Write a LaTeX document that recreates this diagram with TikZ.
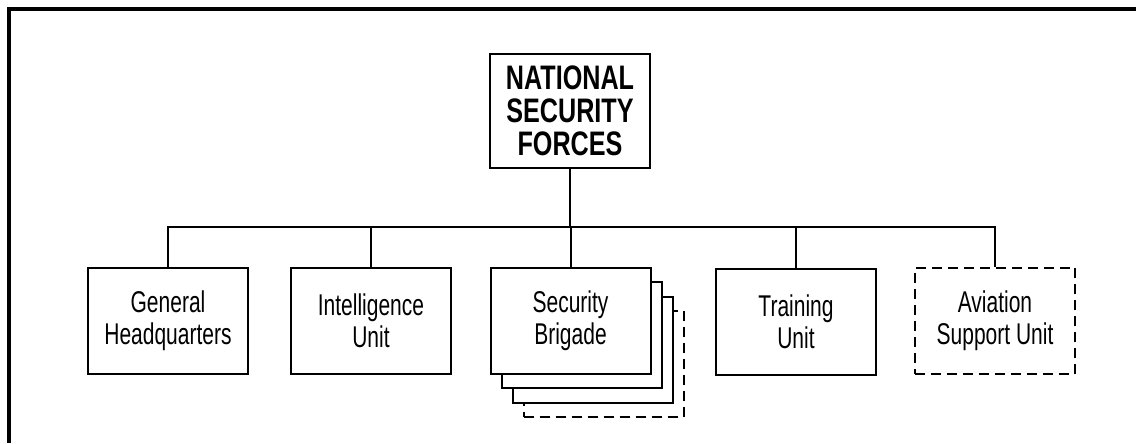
\documentclass[tikz,border=0pt]{standalone}
\usepackage{fontspec}
\newfontfamily\unitfont[FakeStretch=0.7]{Liberation Sans}
\newfontfamily\headfont[FakeStretch=0.74]{Liberation Sans}
\usetikzlibrary{positioning}
\tikzset{unit/.style={draw,line width=1.5pt,fill=white,minimum width=120pt,
    minimum height=80pt,align=center,inner sep=0pt,
    font=\unitfont\fontsize{22.5}{24}\selectfont},
  planned/.style={unit,dash pattern=on 7.5pt off 4.5pt}}

\begin{document}
\begin{tikzpicture}[x=0.75pt,y=-0.75pt]
    \useasboundingbox (0,0) rectangle (1136,443);
    \draw [line width=3pt] (9,443) -- (9,9) -- (1136,9);
    \node [unit,minimum height=86pt,
    font=\headfont\bfseries\fontsize{25.5}{24.75}\selectfont]
    (nsf) at (570,111) {NATIONAL\\SECURITY\\FORCES};
    \node [unit] (ghq) at (168,321) {General\\Headquarters};
    \node [unit] (intel) at (371,321) {Intelligence\\Unit};
    \node [planned] (brig4) at (603.5,364) {};
    \node [unit] (brig3) at (592.5,350) {};
    \node [unit] (brig2) at (581.5,335) {};
    \node [unit] (brig) at (570.5,321) {Security\\Brigade};
    \node [unit] (train) at (796,322) {Training\\Unit};
    \node [planned] (avn) at (995,321) {Aviation\\Support Unit};
    \coordinate (bus) at (570,227);
    \draw [line width=1.5pt] (nsf.south) -- (bus);
    \draw [line width=1.5pt] (ghq.north) |- (bus) -| (avn.north);
    \foreach \n in {intel,brig,train}
    \draw [line width=1.5pt] (\n.north) -- (\n.north |- bus);
  \end{tikzpicture}
\end{document}
